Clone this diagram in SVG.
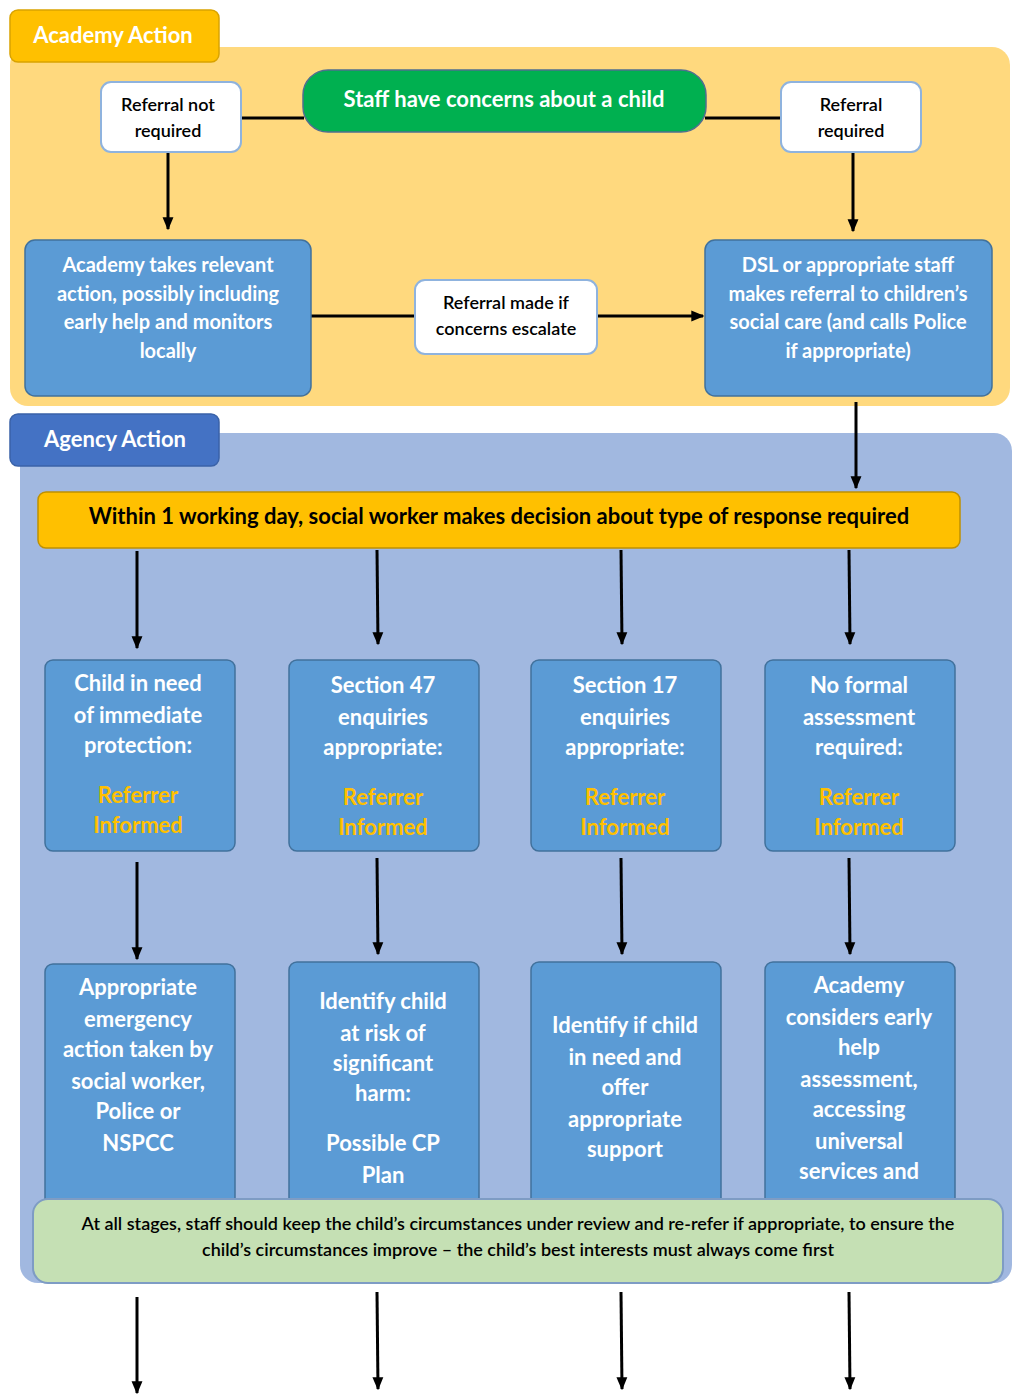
<svg xmlns="http://www.w3.org/2000/svg" width="1013" height="1395" viewBox="0 0 1013 1395">
<defs>
<marker id="ah" viewBox="0 0 10 10" refX="9" refY="5" markerWidth="13" markerHeight="13" orient="auto" markerUnits="userSpaceOnUse">
<path d="M0,0.8 L10,5 L0,9.2 z" fill="#000"/>
</marker>
<style>
text{font-family:Lato,"Open Sans","Liberation Sans",sans-serif;font-weight:bold;text-anchor:middle}
.w{fill:#fff}
.k{fill:#000}
.y{fill:#FFC000}
.wb{fill:#fff;stroke:#8FB3DE;stroke-width:2}
.bb{fill:#5B9BD5;stroke:#41719C;stroke-width:1.5}
.ln{stroke:#000;stroke-width:3;fill:none}
.ar{stroke:#000;stroke-width:3;fill:none;marker-end:url(#ah)}
.t16{font-size:18px;font-weight:600}
.t17{font-size:20px}
.t20{font-size:22px}
.t21{font-size:22px}
</style>
</defs>
<rect width="1013" height="1395" fill="#fff"/>
<g id="academy-panel">
<rect x="10" y="47" width="1000" height="359" rx="18" fill="#FFD97E"/>
<rect x="10" y="10" width="209" height="52" rx="8" fill="#FFC000" stroke="#D9A300" stroke-width="1.5"/>
<text x="113" y="43" class="w t20">Academy Action</text>
</g>
<g id="agency-panel">
<rect x="20" y="433" width="992" height="850" rx="18" fill="#A1B8E0"/>
<rect x="10" y="414" width="209" height="52" rx="8" fill="#4472C4" stroke="#3A62A8" stroke-width="1.5"/>
<text x="115" y="447" class="w t20">Agency Action</text>
</g>
<g id="connectors">
<line x1="241" y1="118" x2="304" y2="118" class="ln"/>
<line x1="705" y1="118" x2="781" y2="118" class="ln"/>
<line x1="168" y1="152" x2="168" y2="229" class="ar"/>
<line x1="853" y1="152" x2="853" y2="231" class="ar"/>
<line x1="311" y1="316" x2="415" y2="316" class="ln"/>
<line x1="597" y1="316" x2="703" y2="316" class="ar"/>
<line x1="856" y1="402" x2="856" y2="488" class="ar"/>
<line x1="137" y1="551" x2="137" y2="648" class="ar"/>
<line x1="377" y1="550" x2="378" y2="644" class="ar"/>
<line x1="621" y1="550" x2="622" y2="644" class="ar"/>
<line x1="849" y1="550" x2="850" y2="644" class="ar"/>
<line x1="137" y1="862" x2="137" y2="959" class="ar"/>
<line x1="377" y1="858" x2="378" y2="954" class="ar"/>
<line x1="621" y1="858" x2="622" y2="954" class="ar"/>
<line x1="849" y1="858" x2="850" y2="954" class="ar"/>
<line x1="137" y1="1297" x2="137" y2="1393" class="ar"/>
<line x1="377" y1="1292" x2="378" y2="1389" class="ar"/>
<line x1="621" y1="1292" x2="622" y2="1389" class="ar"/>
<line x1="849" y1="1292" x2="850" y2="1389" class="ar"/>
</g>
<g id="n-referral-not-required">
<rect x="101" y="82" width="140" height="70" rx="10" class="wb"/>
<text x="168" y="111" class="k t16">Referral not</text>
<text x="168" y="137" class="k t16">required</text>
</g>
<g id="n-staff-concerns">
<rect x="303" y="70" width="403" height="62" rx="25" fill="#00B050" stroke="#4F6F8F" stroke-width="1.5"/>
<text x="504" y="107" class="w t20">Staff have concerns about a child</text>
</g>
<g id="n-referral-required">
<rect x="781" y="82" width="140" height="70" rx="10" class="wb"/>
<text x="851" y="111" class="k t16">Referral</text>
<text x="851" y="137" class="k t16">required</text>
</g>
<g id="n-academy-action">
<rect x="25" y="240" width="286" height="156" rx="10" class="bb"/>
<text x="168" y="272" class="w t17">Academy takes relevant</text>
<text x="168" y="301" class="w t17">action, possibly including</text>
<text x="168" y="329" class="w t17">early help and monitors</text>
<text x="168" y="358" class="w t17">locally</text>
</g>
<g id="n-referral-escalate">
<rect x="415" y="280" width="182" height="74" rx="10" class="wb"/>
<text x="506" y="309" class="k t16">Referral made if</text>
<text x="506" y="335" class="k t16">concerns escalate</text>
</g>
<g id="n-dsl-referral">
<rect x="705" y="240" width="287" height="156" rx="10" class="bb"/>
<text x="848" y="272" class="w t17">DSL or appropriate staff</text>
<text x="848" y="301" class="w t17">makes referral to children’s</text>
<text x="848" y="329" class="w t17">social care (and calls Police</text>
<text x="848" y="358" class="w t17">if appropriate)</text>
</g>
<g id="n-decision">
<rect x="38" y="492" width="922" height="56" rx="8" fill="#FFC000" stroke="#BF9000" stroke-width="1.5"/>
<text x="499" y="524" class="k" style="font-size:22px">Within 1 working day, social worker makes decision about type of response required</text>
</g>
<g id="n-immediate-protection">
<rect x="45" y="660" width="190" height="191" rx="8" class="bb"/>
<text x="138" y="691" class="w t21">Child in need</text>
<text x="138" y="723" class="w t21">of immediate</text>
<text x="138" y="753" class="w t21">protection:</text>
<text x="138" y="803" class="y t21">Referrer</text>
<text x="138" y="833" class="y t21">Informed</text>
</g>
<g id="n-section47">
<rect x="289" y="660" width="190" height="191" rx="8" class="bb"/>
<text x="383" y="693" class="w t21">Section 47</text>
<text x="383" y="725" class="w t21">enquiries</text>
<text x="383" y="755" class="w t21">appropriate:</text>
<text x="383" y="805" class="y t21">Referrer</text>
<text x="383" y="835" class="y t21">Informed</text>
</g>
<g id="n-section17">
<rect x="531" y="660" width="190" height="191" rx="8" class="bb"/>
<text x="625" y="693" class="w t21">Section 17</text>
<text x="625" y="725" class="w t21">enquiries</text>
<text x="625" y="755" class="w t21">appropriate:</text>
<text x="625" y="805" class="y t21">Referrer</text>
<text x="625" y="835" class="y t21">Informed</text>
</g>
<g id="n-no-formal">
<rect x="765" y="660" width="190" height="191" rx="8" class="bb"/>
<text x="859" y="693" class="w t21">No formal</text>
<text x="859" y="725" class="w t21">assessment</text>
<text x="859" y="755" class="w t21">required:</text>
<text x="859" y="805" class="y t21">Referrer</text>
<text x="859" y="835" class="y t21">Informed</text>
</g>
<g id="n-emergency-action">
<rect x="45" y="964" width="190" height="270" rx="8" class="bb"/>
<text x="138" y="995" class="w t21">Appropriate</text>
<text x="138" y="1027" class="w t21">emergency</text>
<text x="138" y="1057" class="w t21">action taken by</text>
<text x="138" y="1089" class="w t21">social worker,</text>
<text x="138" y="1119" class="w t21">Police or</text>
<text x="138" y="1151" class="w t21">NSPCC</text>
</g>
<g id="n-significant-harm">
<rect x="289" y="962" width="190" height="272" rx="8" class="bb"/>
<text x="383" y="1009" class="w t21">Identify child</text>
<text x="383" y="1041" class="w t21">at risk of</text>
<text x="383" y="1071" class="w t21">significant</text>
<text x="383" y="1101" class="w t21">harm:</text>
<text x="383" y="1151" class="w t21">Possible CP</text>
<text x="383" y="1183" class="w t21">Plan</text>
</g>
<g id="n-child-in-need">
<rect x="531" y="962" width="190" height="272" rx="8" class="bb"/>
<text x="625" y="1033" class="w t21">Identify if child</text>
<text x="625" y="1065" class="w t21">in need and</text>
<text x="625" y="1095" class="w t21">offer</text>
<text x="625" y="1127" class="w t21">appropriate</text>
<text x="625" y="1157" class="w t21">support</text>
</g>
<g id="n-early-help">
<rect x="765" y="962" width="190" height="272" rx="8" class="bb"/>
<text x="859" y="993" class="w t21">Academy</text>
<text x="859" y="1025" class="w t21">considers early</text>
<text x="859" y="1055" class="w t21">help</text>
<text x="859" y="1087" class="w t21">assessment,</text>
<text x="859" y="1117" class="w t21">accessing</text>
<text x="859" y="1149" class="w t21">universal</text>
<text x="859" y="1179" class="w t21">services and</text>
</g>
<g id="n-review">
<rect x="33" y="1199" width="970" height="84" rx="15" fill="#C5E0B4" stroke="#7E9CC4" stroke-width="2"/>
<text x="518" y="1230" class="k" style="font-size:18px;font-weight:600">At all stages, staff should keep the child’s circumstances under review and re-refer if appropriate, to ensure the</text>
<text x="518" y="1256" class="k" style="font-size:18px;font-weight:600">child’s circumstances improve – the child’s best interests must always come first</text>
</g>
</svg>
